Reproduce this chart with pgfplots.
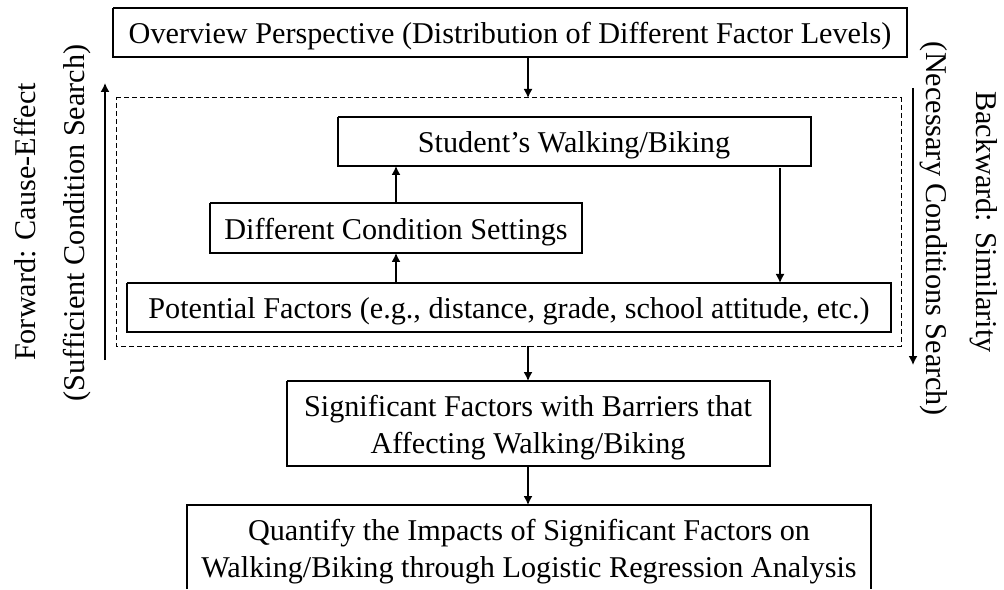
\documentclass[border=0pt]{standalone}
\usepackage{fontspec}
\setmainfont{Liberation Serif}
\usepackage{pgfplots}
\pgfplotsset{compat=1.18}
\usetikzlibrary{arrows.meta}
\begin{document}
\begin{tikzpicture}[
  box/.style={black, solid, line width=0.75pt, mark=none},
  arr/.style={box, -{Latex[length=4.5pt,width=4.5pt]}},
  lbl/.style={font=\fontsize{15.1}{18.5}\selectfont, align=center, inner sep=0pt},
]
\begin{axis}[
  scale only axis,
  width=502pt, height=294.5pt,
  xmin=0, xmax=1004, ymin=0, ymax=589,
  y dir=reverse,
  hide axis,
  clip=false,
]
% frame of the picture
\addplot[draw=none, mark=none] coordinates {(0,0) (1004,589)};
% boxes
\addplot[box] coordinates {(113,8) (907,8) (907,57) (113,57) (113,8)};
\addplot[black, mark=none, line width=0.5pt, dash pattern=on 2.5pt off 1.5pt] coordinates {(116,98) (901,98) (901,346) (116,346) (116,98)};
\addplot[box] coordinates {(338,117) (811,117) (811,166) (338,166) (338,117)};
\addplot[box] coordinates {(210,203) (582,203) (582,253) (210,253) (210,203)};
\addplot[box] coordinates {(127,283) (891,283) (891,332) (127,332) (127,283)};
\addplot[box] coordinates {(287,381) (770,381) (770,466) (287,466) (287,381)};
\addplot[box] coordinates {(187,589) (187,505) (871,505) (871,589)};
% arrows
\addplot[arr] coordinates {(528,57) (528,98)};
\addplot[arr] coordinates {(528,346) (528,381)};
\addplot[arr] coordinates {(528,466) (528,505)};
\addplot[arr] coordinates {(396,283) (396,253)};
\addplot[arr] coordinates {(396,203) (396,166)};
\addplot[arr] coordinates {(780,168) (780,283)};
\addplot[arr] coordinates {(105,360) (105,83)};
\addplot[arr] coordinates {(913,88) (913,365)};
% texts
\node[lbl] at (axis cs:510,36.5) {Overview Perspective (Distribution of Different Factor Levels)};
\node[lbl] at (axis cs:574,145.5) {Student’s Walking/Biking};
\node[lbl] at (axis cs:396,232) {Different Condition Settings};
\node[lbl] at (axis cs:509,311.5) {Potential Factors (e.g., distance, grade, school attitude, etc.)};
\node[lbl] at (axis cs:528,428) {Significant Factors with Barriers that\\Affecting Walking/Biking};
\node[lbl] at (axis cs:529,552) {Quantify the Impacts of Significant Factors on\\Walking/Biking through Logistic Regression Analysis};
\node[lbl, rotate=90] at (axis cs:25,222) {Forward: Cause-Effect};
\node[lbl, rotate=90] at (axis cs:77,223) {(Sufficient Condition Search)};
\node[lbl, rotate=-90] at (axis cs:934,229) {(Necessary Conditions Search)};
\node[lbl, rotate=-90] at (axis cs:984,222) {Backward: Similarity};
\end{axis}
\end{tikzpicture}
\end{document}
